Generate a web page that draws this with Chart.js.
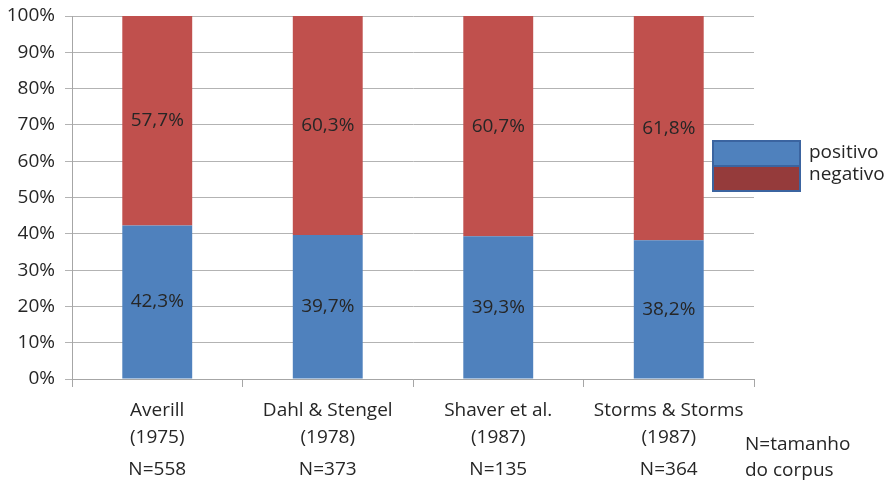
<!DOCTYPE html>
<html>
<head>
<meta charset="utf-8">
<script src="https://cdn.jsdelivr.net/npm/chart.js@4/dist/chart.umd.min.js"></script>
<style>
  html, body { margin: 0; padding: 0; background: #fff; }
  #wrap { width: 892px; height: 481px; }
</style>
</head>
<body>
<div id="wrap"><canvas id="corpusChart" width="892" height="481"></canvas></div>
<script>
    // autores / ano / tamanho do corpus
    const autores = ['Averill', 'Dahl & Stengel', 'Shaver et al.', 'Storms & Storms'];
    const anos = ['(1975)', '(1978)', '(1987)', '(1987)'];
    const tamanhos = ['N=558', 'N=373', 'N=135', 'N=364'];

    // percentuais de cada polaridade
    const positivo = [42.3, 39.7, 39.3, 38.2];
    const negativo = [57.7, 60.3, 60.7, 61.8];

    const fonte = '"Open Sans", sans-serif';
    const corTexto = '#262626';
    const tamFonte = 19;

    // rótulos do eixo x (autor, ano, N) desenhados por baixo de cada coluna
    const rotulosX = {
        id: 'rotulosX',
        afterDraw(chart) {
            const ctx = chart.ctx;
            const x = chart.scales.x;
            ctx.save();
            ctx.font = tamFonte + 'px ' + fonte;
            ctx.fillStyle = corTexto;
            ctx.textAlign = 'center';
            ctx.textBaseline = 'middle';
            autores.forEach((a, i) => {
                const px = x.getPixelForValue(i);
                ctx.fillText(a, px, 411);
                ctx.fillText(anos[i], px, 438);
                ctx.fillText(tamanhos[i], px, 470);
            });
            ctx.textAlign = 'left';
            ctx.fillText('N=tamanho', 745, 445);
            ctx.fillText('do corpus', 745, 471);
            ctx.restore();
        }
    };

    // valores escritos no meio de cada segmento
    const valores = {
        id: 'valores',
        afterDatasetsDraw(chart) {
            const ctx = chart.ctx;
            ctx.save();
            ctx.font = tamFonte + 'px ' + fonte;
            ctx.fillStyle = corTexto;
            ctx.textAlign = 'center';
            ctx.textBaseline = 'middle';
            chart.data.datasets.forEach((ds, d) => {
                chart.getDatasetMeta(d).data.forEach((bar, i) => {
                    const p = bar.getProps(['x', 'y', 'base'], true);
                    const txt = ds.data[i].toFixed(1).replace('.', ',') + '%';
                    ctx.fillText(txt, p.x, (p.y + p.base) / 2);
                });
            });
            ctx.restore();
        }
    };

    // legenda com as duas caixas empilhadas
    const legenda = {
        id: 'legenda',
        afterDraw(chart) {
            const ctx = chart.ctx;
            ctx.save();
            ctx.fillStyle = '#4F81BD';
            ctx.fillRect(713, 141, 87, 25);
            ctx.fillStyle = '#953B3B';
            ctx.fillRect(713, 166, 87, 25);
            ctx.strokeStyle = '#3B64A0';
            ctx.lineWidth = 2;
            ctx.strokeRect(713, 141, 87, 25);
            ctx.strokeRect(713, 166, 87, 25);
            ctx.font = tamFonte + 'px ' + fonte;
            ctx.fillStyle = corTexto;
            ctx.textBaseline = 'middle';
            ctx.fillText('positivo', 809, 153);
            ctx.fillText('negativo', 809, 175);
            ctx.restore();
        }
    };

    new Chart(document.getElementById('corpusChart').getContext('2d'), {
        type: 'bar',
        data: {
            labels: autores,
            datasets: [
                { label: 'positivo', data: positivo, backgroundColor: '#4F81BD' },
                { label: 'negativo', data: negativo, backgroundColor: '#C0504D' }
            ]
        },
        options: {
            responsive: false,
            animation: false,
            layout: { padding: { top: 16, right: 138, left: 0, bottom: 0 } },
            datasets: { bar: { categoryPercentage: 1, barPercentage: 0.41 } },
            plugins: { legend: { display: false }, tooltip: { enabled: false } },
            scales: {
                x: {
                    stacked: true,
                    afterFit(scale) { scale.height = 102; },
                    grid: { drawOnChartArea: false, tickLength: 8, color: '#A6A6A6' },
                    border: { color: '#A6A6A6' },
                    ticks: { display: false }
                },
                y: {
                    stacked: true,
                    min: 0,
                    max: 100,
                    afterFit(scale) {
                        scale.width = 72;
                        // o topo da área fica só com o padding do layout
                        scale.paddingTop = 0;
                        scale.paddingBottom = 0;
                    },
                    grid: { color: '#B3B3B3', tickLength: 7 },
                    border: { color: '#A6A6A6' },
                    ticks: {
                        stepSize: 10,
                        padding: 10,
                        color: corTexto,
                        font: { family: fonte, size: tamFonte },
                        callback: v => v + '%'
                    }
                }
            }
        },
        plugins: [valores, rotulosX, legenda]
    });
</script>
</body>
</html>
